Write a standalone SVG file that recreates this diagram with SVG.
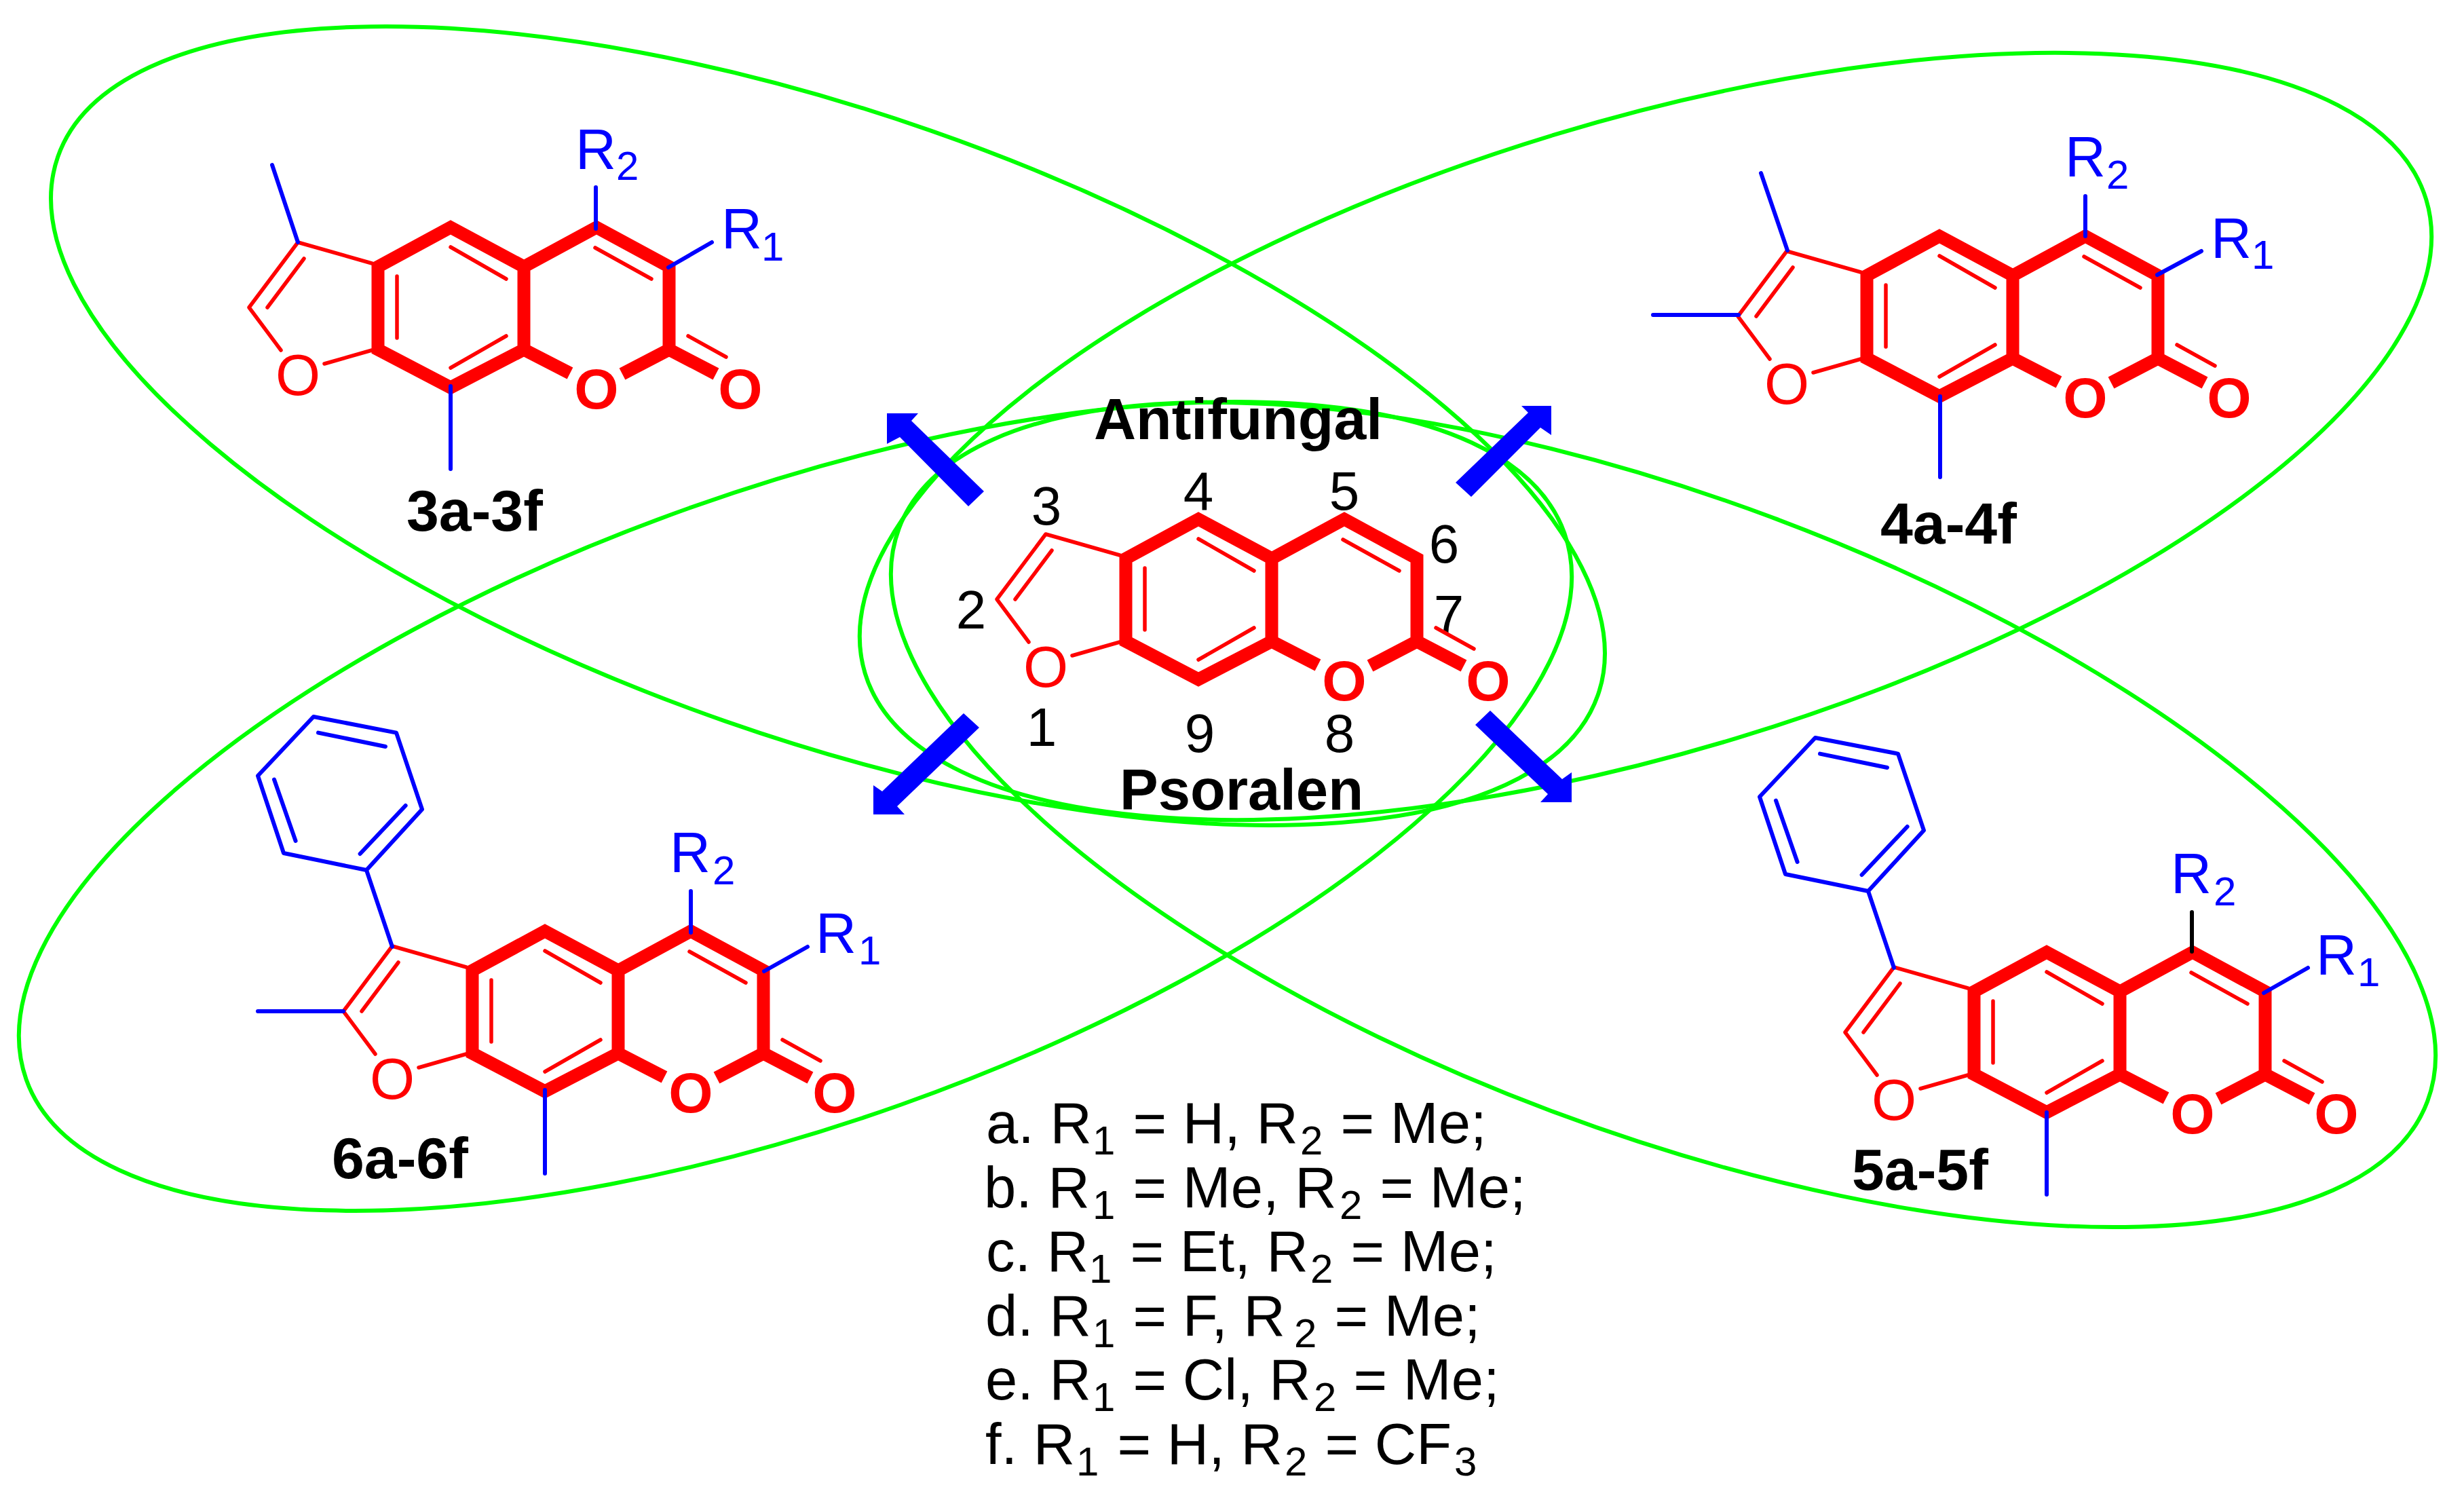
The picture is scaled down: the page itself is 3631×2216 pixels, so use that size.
<svg xmlns="http://www.w3.org/2000/svg" xmlns:xlink="http://www.w3.org/1999/xlink" width="3631" height="2216" viewBox="0 0 3631 2216">
<style>
text{font-family:"Liberation Sans",Arial,sans-serif;fill:#000}
.ell{fill:none;stroke:#00ff00;stroke-width:6}
.thick{fill:none;stroke:#ff0000;stroke-width:19;stroke-linejoin:miter;stroke-miterlimit:4}
.thin{fill:none;stroke:#ff0000;stroke-width:5.5;stroke-linecap:round;stroke-linejoin:round}
.bl{fill:none;stroke:#0000ff;stroke-width:6;stroke-linecap:round;stroke-linejoin:round}
.blk{fill:none;stroke:#000;stroke-width:6;stroke-linecap:round}
.arrow{fill:#0000ff}
.o{font-size:85px;fill:#ff0000;text-anchor:middle}
.ob{font-size:84px;font-weight:bold;fill:#ff0000;text-anchor:middle}
.r{font-size:83px;fill:#0000ff}
.s{font-size:60px}
.lab{font-size:86px;font-weight:bold}
.num{font-size:80px;text-anchor:middle}
.leg{font-size:85px}
</style>
<defs>
<g id="core">
<path class="thick" d="M1659,823 L1766,765 L1874,823 V945 L1766,1001 L1659,945 Z M1874,823 L1981,765 L2088,823 V945 M1874,945 L1942,980 M2088,945 L2019,981 M2088,945 L2157,981"/>
<path class="thin" d="M1650,818 L1541,787 L1469,883 L1516,946 M1550,811 L1496,883 M1580,966 L1650,946 M1766,794 L1848,841 M1687,837 V928 M1766,972 L1848,925 M1979,795 L2062,841 M2116,925 L2172,956"/>
</g>
<g id="phenyl">
<path class="bl" d="M2675,1087 L2797,1110.6 L2835,1223.5 L2753,1313 L2631,1288 L2593,1174 Z M2682,1110.6 L2781,1131 M2810.6,1218 L2743.6,1289 M2648.6,1270 L2617,1179.5 M2753,1313 L2791,1426"/>
</g>
</defs>
<rect width="3631" height="2216" fill="#ffffff"/>
<g id="ellipses">
<ellipse class="ell" cx="1220" cy="627.5" rx="1202" ry="460.6" transform="rotate(19.26 1220 627.5)"/>
<ellipse class="ell" cx="2425" cy="643" rx="1202" ry="464.4" transform="rotate(-16.88 2425 643)"/>
<ellipse class="ell" cx="1172" cy="1188" rx="1202.7" ry="466.4" transform="rotate(-19.55 1172 1188)"/>
<ellipse class="ell" cx="2451" cy="1200.5" rx="1202.7" ry="466.6" transform="rotate(20.55 2451 1200.5)"/>
</g>
<g id="connectors">
<polygon class="arrow" points="1307,609 1353,609 1343,620 1450,724 1427,746 1326,644 1307,654"/>
<polygon class="arrow" points="2286,598 2242,598 2252,608 2145,711 2168,732 2270,630 2286,641"/>
<polygon class="arrow" points="1287,1200 1333,1200 1322,1188 1443,1072 1420,1051 1300,1166 1287,1157"/>
<polygon class="arrow" points="2316,1182 2270,1182 2281,1170 2174,1068 2196,1047 2302,1148 2316,1138"/>
</g>
<g id="psoralen">
<text class="lab" x="1612" y="647">Antifungal</text>
<text class="lab" x="1650" y="1193" style="font-size:85px">Psoralen</text>
<text class="num" x="1431" y="926">2</text>
<text class="num" x="1542" y="773">3</text>
<text class="num" x="1766" y="751">4</text>
<text class="num" x="1981" y="751">5</text>
<text class="num" x="2128" y="829">6</text>
<text class="num" x="2135" y="933">7</text>
<text class="num" x="1535" y="1099">1</text>
<text class="num" x="1768" y="1108">9</text>
<text class="num" x="1974" y="1108">8</text>
<use href="#core" xlink:href="#core"/>
<text class="o" x="1541" y="1012">O</text>
<text class="ob" x="1981" y="1032">O</text>
<text class="ob" x="2193" y="1032">O</text>
</g>
<g id="compound-3">
<use href="#core" xlink:href="#core" transform="translate(-1102,-430)"/>
<path class="bl" d="M401,243 L439,357 M664,569 V691 M878,276 V337 M985,394 L1049,357"/>
<text class="o" x="439" y="582">O</text>
<text class="ob" x="879" y="602">O</text>
<text class="ob" x="1091" y="602">O</text>
<text class="r" x="848" y="249">R<tspan class="s" x="908" y="265">2</tspan></text>
<text class="r" x="1063" y="366">R<tspan class="s" x="1122" y="384">1</tspan></text>
<text class="lab" x="599" y="782">3a-3f</text>
</g>
<g id="compound-4">
<use href="#core" xlink:href="#core" transform="translate(1092,-417)"/>
<path class="bl" d="M2595,255 L2634,369 M2436,464 H2562 M2859,584 V703 M3073,289 V348 M3179,405 L3244,370"/>
<text class="o" x="2633" y="595">O</text>
<text class="ob" x="3073" y="615">O</text>
<text class="ob" x="3285" y="615">O</text>
<text class="r" x="3043" y="260">R<tspan class="s" x="3104" y="278">2</tspan></text>
<text class="r" x="3258" y="379.5">R<tspan class="s" x="3318" y="396">1</tspan></text>
<text class="lab" x="2771" y="800.5">4a-4f</text>
</g>
<g id="compound-5">
<use href="#core" xlink:href="#core" transform="translate(1250,638)"/>
<use href="#phenyl" xlink:href="#phenyl"/>
<path class="blk" d="M3230,1344 V1402"/>
<path class="bl" d="M3016,1639 V1760 M3336,1463 L3401,1426"/>
<text class="o" x="2791" y="1650">O</text>
<text class="ob" x="3231" y="1670">O</text>
<text class="ob" x="3443" y="1670">O</text>
<text class="r" x="3199" y="1316">R<tspan class="s" x="3262" y="1334">2</tspan></text>
<text class="r" x="3413" y="1436">R<tspan class="s" x="3474" y="1453">1</tspan></text>
<text class="lab" x="2729" y="1753">5a-5f</text>
</g>
<g id="compound-6">
<use href="#core" xlink:href="#core" transform="translate(-963,607)"/>
<use href="#phenyl" xlink:href="#phenyl" transform="translate(-2213,-31)"/>
<path class="bl" d="M380,1490 H506 M803,1606 V1729 M1018,1313 V1374 M1126,1431 L1190,1395"/>
<text class="o" x="578" y="1619">O</text>
<text class="ob" x="1018" y="1639">O</text>
<text class="ob" x="1230" y="1639">O</text>
<text class="r" x="987" y="1285">R<tspan class="s" x="1050" y="1303">2</tspan></text>
<text class="r" x="1202" y="1404">R<tspan class="s" x="1265" y="1421">1</tspan></text>
<text class="lab" x="489" y="1736">6a-6f</text>
</g>
<g id="legend">
<text class="leg" y="1684" x="1453">a. R<tspan class="s" x="1610" dy="17">1</tspan><tspan x="1646" dy="-17"> = H, R</tspan><tspan class="s" x="1916" dy="17">2</tspan><tspan x="1952" dy="-17"> = Me;</tspan></text>
<text class="leg" y="1779" x="1450">b. R<tspan class="s" x="1610" dy="17">1</tspan><tspan x="1646" dy="-17"> = Me, R</tspan><tspan class="s" x="1974" dy="17">2</tspan><tspan x="2010" dy="-17"> = Me;</tspan></text>
<text class="leg" y="1873" x="1453">c. R<tspan class="s" x="1605" dy="17">1</tspan><tspan x="1642" dy="-17"> = Et, R</tspan><tspan class="s" x="1931" dy="17">2</tspan><tspan x="1967" dy="-17"> = Me;</tspan></text>
<text class="leg" y="1968" x="1452">d. R<tspan class="s" x="1610" dy="17">1</tspan><tspan x="1646" dy="-17"> = F, R</tspan><tspan class="s" x="1907" dy="17">2</tspan><tspan x="1943" dy="-17"> = Me;</tspan></text>
<text class="leg" y="2062" x="1452">e. R<tspan class="s" x="1610" dy="17">1</tspan><tspan x="1646" dy="-17"> = Cl, R</tspan><tspan class="s" x="1936" dy="17">2</tspan><tspan x="1971" dy="-17"> = Me;</tspan></text>
<text class="leg" y="2157" x="1452">f. R<tspan class="s" x="1586" dy="17">1</tspan><tspan x="1623" dy="-17"> = H, R</tspan><tspan class="s" x="1893" dy="17">2</tspan><tspan x="1929" dy="-17"> = CF</tspan><tspan class="s" x="2143" dy="17">3</tspan></text>
</g>
</svg>
